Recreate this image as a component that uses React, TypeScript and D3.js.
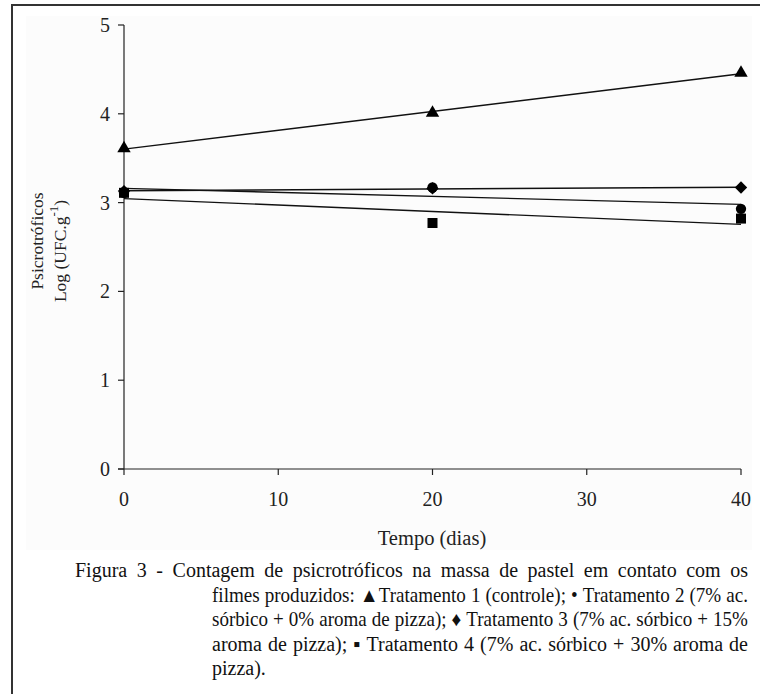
import React, { useLayoutEffect, useRef, useState } from "react";
import * as d3 from "d3";

const days = [0, 20, 40];
const trat1 = [3.61, 4.01, 4.46];
const trat2 = [3.11, 3.17, 2.93];
const trat3 = [3.13, 3.16, 3.17];
const trat4 = [3.11, 2.77, 2.82];
const xTicks = [0, 10, 20, 30, 40];
const yTicks = [0, 1, 2, 3, 4, 5];

const yLabel1 = "Psicrotróficos";
const yLabel2 = "Log (UFC.g";
const yLabelSup = "-1";
const xLabel = "Tempo (dias)";

const captionLines = [
  "Figura 3 - Contagem de psicrotróficos na massa de pastel em contato com os",
  "filmes produzidos: ▲Tratamento 1 (controle); • Tratamento 2 (7% ac.",
  "sórbico + 0% aroma de pizza); ♦ Tratamento 3 (7% ac. sórbico + 15%",
  "aroma de pizza); ▪ Tratamento 4 (7% ac. sórbico + 30% aroma de",
  "pizza).",
];

const FONT = '"Liberation Serif", "Times New Roman", serif';
const W = 760;
const H = 694;

function regression(xs: number[], ys: number[]) {
  const mx = d3.mean(xs) as number;
  const my = d3.mean(ys) as number;
  let num = 0;
  let den = 0;
  xs.forEach((x, i) => {
    num += (x - mx) * (ys[i] - my);
    den += (x - mx) * (x - mx);
  });
  const slope = num / den;
  return { slope, intercept: my - slope * mx };
}

function Caption({ size, x0, xi, x1, ys, minGap }: any) {
  const ref = useRef<SVGGElement>(null);
  const [widths, setWidths] = useState<number[][] | null>(null);
  const [spaceW, setSpaceW] = useState(5);
  const lines = captionLines.map((l) => l.split(" "));

  useLayoutEffect(() => {
    const g = ref.current;
    if (!g) return;
    const texts = Array.from(g.querySelectorAll("text.m")) as SVGTextElement[];
    const all = texts.map((t) => t.getComputedTextLength());
    const res: number[][] = [];
    let k = 0;
    lines.forEach((ws) => {
      res.push(ws.map(() => all[k++]));
    });
    const sp = g.querySelector("text.sp") as SVGTextElement;
    const sp2 = g.querySelector("text.sp2") as SVGTextElement;
    const spw = sp && sp2 ? sp.getComputedTextLength() - sp2.getComputedTextLength() : 5;
    setSpaceW(spw);
    setWidths(res);
  }, []);

  if (!widths) {
    return (
      <g ref={ref} opacity={0}>
        {lines.map((ws, i) =>
          ws.map((w, j) => (
            <text key={i + "-" + j} className="m" fontSize={size} fontFamily={FONT}>
              {w}
            </text>
          ))
        )}
        <text className="sp" fontSize={size} fontFamily={FONT} style={{ whiteSpace: "pre" }}>
          {"a a"}
        </text>
        <text className="sp2" fontSize={size} fontFamily={FONT}>
          {"aa"}
        </text>
      </g>
    );
  }

  return (
    <g ref={ref}>
      {lines.map((ws, i) => {
        const start = i === 0 ? x0 : xi;
        const total = d3.sum(widths[i]);
        const justify = i < lines.length - 1;
        const avail = x1 - start;
        // horizontal squeeze if words would be too tight
        let sx = 1;
        if (justify && total + minGap * (ws.length - 1) > avail) {
          sx = (avail - minGap * (ws.length - 1)) / total;
        }
        const gap = justify && ws.length > 1 ? (avail - total * sx) / (ws.length - 1) : spaceW;
        let cx = start;
        return ws.map((w, j) => {
          const el = (
            <text
              key={i + "-" + j}
              transform={`translate(${cx},${ys[i]}) scale(${sx},1)`}
              fontSize={size}
              fontFamily={FONT}
              fill="#111"
            >
              {w}
            </text>
          );
          cx += widths[i][j] * sx + gap;
          return el;
        });
      })}
    </g>
  );
}

export default function App() {
  const x = d3.scaleLinear().domain([0, 40]).range([124, 741]);
  const y = d3.scaleLinear().domain([0, 5]).range([469, 25]);

  const series = [
    { name: "Tratamento 1", values: trat1, symbol: d3.symbolTriangle, size: 78, rotate: 0 },
    { name: "Tratamento 3", values: trat3, symbol: d3.symbolSquare, size: 76, rotate: 45 },
    { name: "Tratamento 2", values: trat2, symbol: d3.symbolCircle, size: 84, rotate: 0 },
    { name: "Tratamento 4", values: trat4, symbol: d3.symbolSquare, size: 100, rotate: 0 },
  ];

  const line = d3
    .line<[number, number]>()
    .x((d) => x(d[0]))
    .y((d) => y(d[1]));

  const tickSize = 20;

  return (
    <svg
      width={W}
      height={H}
      style={{ position: "absolute", left: 0, top: 0, background: "#fff" }}
    >
      <rect x={26} y={16} width={726} height={534} fill="#fcfcfc" />
      <line x1={11} x2={760} y1={5} y2={5} stroke="#333" strokeWidth={2} />
      <line x1={12} x2={12} y1={4} y2={694} stroke="#333" strokeWidth={2} />

      {/* axes */}
      <line x1={x(0)} x2={x(0)} y1={y(5)} y2={y(0)} stroke="#222" strokeWidth={1.2} />
      <line x1={x(0) - 6} x2={x(40)} y1={y(0)} y2={y(0)} stroke="#222" strokeWidth={1.2} />
      {yTicks.map((t) => (
        <g key={"y" + t}>
          <line x1={x(0) - 6} x2={x(0)} y1={y(t)} y2={y(t)} stroke="#222" strokeWidth={1.2} />
          <text
            x={x(0) - 14}
            y={y(t)}
            dy="0.35em"
            textAnchor="end"
            fontSize={tickSize}
            fontFamily={FONT}
            fill="#222"
          >
            {t}
          </text>
        </g>
      ))}
      {xTicks.map((t) => (
        <g key={"x" + t}>
          <line x1={x(t)} x2={x(t)} y1={y(0)} y2={y(0) + 6} stroke="#222" strokeWidth={1.2} />
          <text
            x={x(t)}
            y={y(0) + 37}
            textAnchor="middle"
            fontSize={tickSize}
            fontFamily={FONT}
            fill="#222"
          >
            {t}
          </text>
        </g>
      ))}
      <text x={432} y={545} textAnchor="middle" fontSize={20.5} fontFamily={FONT} fill="#222">
        {xLabel}
      </text>
      <text
        transform="translate(43,241) rotate(-90)"
        textAnchor="middle"
        fontSize={17.5}
        fontFamily={FONT}
        fill="#222"
      >
        {yLabel1}
      </text>
      <text
        transform="translate(66,251) rotate(-90)"
        textAnchor="middle"
        fontSize={17.5}
        fontFamily={FONT}
        fill="#222"
      >
        {yLabel2}
        <tspan dy={-8} fontSize={13}>
          {yLabelSup}
        </tspan>
        <tspan dy={8}>)</tspan>
      </text>

      {/* trend lines */}
      {series.map((s) => {
        const r = regression(days, s.values);
        const pts: [number, number][] = [
          [0, r.intercept],
          [40, r.intercept + r.slope * 40],
        ];
        return <path key={"l" + s.name} d={line(pts) as string} fill="none" stroke="#111" strokeWidth={1.4} />;
      })}

      {/* markers */}
      {series.map((s) =>
        s.values.map((v, i) => (
          <path
            key={s.name + i}
            d={d3.symbol().type(s.symbol).size(s.size)() as string}
            transform={`translate(${x(days[i])},${y(v)}) rotate(${s.rotate})`}
            fill="#000"
          />
        ))
      )}

      {/* caption */}
      <Caption size={20} minGap={5} x0={75} xi={212} x1={748} ys={[577, 601.5, 626, 650.5, 675]} />
    </svg>
  );
}
